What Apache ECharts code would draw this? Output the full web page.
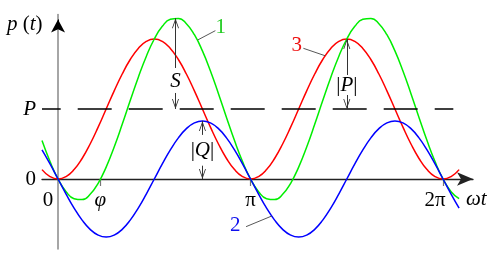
<!DOCTYPE html>
<html><head><meta charset="utf-8">
<script src="https://cdn.jsdelivr.net/npm/echarts@6/dist/echarts.min.js"></script>
<style>html,body{margin:0;padding:0;background:#fff}#c{width:500px;height:259px}</style>
</head><body><div id="c"></div>
<script>
// ωt in degrees (π = 180)
const xDeg = [-15, -7.5, 0, 7.5, 15, 22.5, 30, 37.5, 45, 52.5, 60, 67.5, 75, 82.5, 90, 97.5, 105, 112.5, 120, 127.5, 135, 142.5, 150, 157.5, 165, 172.5, 180, 187.5, 195, 202.5, 210, 217.5, 225, 232.5, 240, 247.5, 255, 262.5, 270, 277.5, 285, 292.5, 300, 307.5, 315, 322.5, 330, 337.5, 345, 352.5, 360, 367.5, 375];
// curve 1 (green), in units of P
const curve1 = [0.549, 0.249,
  0, -0.181, -0.281, -0.294, -0.219, -0.061, 0.17, 0.457, 0.781, 1.12, 1.451, 1.751, 2, 2.181, 2.281, 2.294, 2.219, 2.061, 1.83, 1.543, 1.219, 0.88, 0.549, 0.249,
  0, -0.181, -0.281, -0.294, -0.219, -0.061, 0.17, 0.457, 0.781, 1.12, 1.451, 1.751, 2, 2.181, 2.281, 2.294, 2.219, 2.061, 1.83, 1.543, 1.219, 0.88, 0.549, 0.249,
  0, -0.181, -0.281];
// curve 2 (blue)
const curve2 = [0.415, 0.215,
  0, -0.215, -0.415, -0.587, -0.719, -0.802, -0.83, -0.802, -0.719, -0.587, -0.415, -0.215, 0, 0.215, 0.415, 0.587, 0.719, 0.802, 0.83, 0.802, 0.719, 0.587, 0.415, 0.215,
  0, -0.215, -0.415, -0.587, -0.719, -0.802, -0.83, -0.802, -0.719, -0.587, -0.415, -0.215, 0, 0.215, 0.415, 0.587, 0.719, 0.802, 0.83, 0.802, 0.719, 0.587, 0.415, 0.215,
  0, -0.215, -0.415];
// curve 3 (red)
const curve3 = [0.134, 0.034,
  0, 0.034, 0.134, 0.293, 0.5, 0.741, 1, 1.259, 1.5, 1.707, 1.866, 1.966, 2, 1.966, 1.866, 1.707, 1.5, 1.259, 1, 0.741, 0.5, 0.293, 0.134, 0.034,
  0, 0.034, 0.134, 0.293, 0.5, 0.741, 1, 1.259, 1.5, 1.707, 1.866, 1.966, 2, 1.966, 1.866, 1.707, 1.5, 1.259, 1, 0.741, 0.5, 0.293, 0.134, 0.034,
  0, 0.034, 0.134];
const xTickValues = [0, 39.6, 180, 360];
const xTickLabels = ['0', 'φ', 'π', '2π'];
const yTickValues = [0, 1];
const yTickLabels = ['0', 'P'];
const pLevel = 1;
// amplitude annotations
const ampLabels = ['S', '|Q|', '|P|'];
const ampX = [109.8, 135, 270];
const ampFrom = [1, 0, 1];
const ampTo = [2.298, 0.83, 2];
const curveLabels = ['1', '2', '3'];

const FONT = 'Liberation Serif';
const GREEN = '#00ee00', BLUE = '#0000ff', RED = '#ff0000';
const rich = {
  i: {fontFamily: FONT, fontStyle: 'italic', fontSize: 21, lineHeight: 22, color: '#000'},
  u: {fontFamily: FONT, fontSize: 21, lineHeight: 22, color: '#000'},
  o: {fontFamily: FONT, fontSize: 21, lineHeight: 22, color: '#000', padding: [0, 20, 0, 0]},
  t: {fontFamily: FONT, fontSize: 21, lineHeight: 22, color: '#000', padding: [0, 16, 0, 0]}
};
function pairs(ys) { return xDeg.map((x, i) => [x, ys[i]]); }
const arrowPath = 'path://M0,10 L5,0 L10,10 L8.8,10 L5,2.6 L1.2,10 Z';

// gaps in arrow lines where labels sit, and label positions (data units)
const ampGap = [[1.586, 1.229], [0.63, 0.19], [1.486, 1.2]];
const ampLabelY = [1.39, 0.407, 1.343];
const ampSegments = [];
ampX.forEach((x, k) => {
  ampSegments.push([{coord: [x, ampGap[k][0]]}, {coord: [x, ampTo[k]]}]);
  ampSegments.push([{coord: [x, ampGap[k][1]]}, {coord: [x, ampFrom[k]]}]);
});
const ampRich = ['{i|S}', '{u||}{i|Q}{u||}', '{u||}{i|P}{u||}'];

const leaderSegs = [
  [{coord: [130.6, 1.986]}, {coord: [147.1, 2.119]}],
  [{coord: [199.8, -0.529]}, {coord: [175.8, -0.681]}],
  [{coord: [249.7, 1.761]}, {coord: [229.4, 1.867]}]
];
const leaderLabelPos = [[152.2, 2.16], [165.8, -0.657], [223.2, 1.904]];
const leaderColors = ['#22cc22', '#1010ee', '#ee1010'];

const chart = echarts.init(document.getElementById('c'), null, {renderer: 'canvas'});
chart.setOption({
  animation: false,
  backgroundColor: '#fff',
  grid: {left: 42, right: 27, top: 14.5, bottom: 10, containLabel: false, outerBoundsMode: 'none'},
  xAxis: {
    type: 'value', min: -15, max: 388, position: 'bottom', offset: -70,
    splitLine: {show: false},
    axisLine: {show: true, onZero: false, symbol: ['none', 'arrow'], symbolSize: [10, 16], lineStyle: {color: '#222', width: 1.3}},
    axisTick: {show: true, customValues: xTickValues.slice(1), length: 7, inside: false, lineStyle: {color: '#777', width: 1.2}},
    axisLabel: {
      show: true, customValues: xTickValues, margin: 10,
      formatter: v => {
        const k = xTickValues.indexOf(v);
        const s = xTickLabels[k];
        if (k === 0) return '{o|' + s + '}';
        if (k === 1) return '{i|' + s + '}';
        if (k === 3) return '{t|' + s + '}';
        return '{u|' + s + '}';
      },
      rich: rich
    }
  },
  yAxis: {
    type: 'value', min: -1, max: 2.35, position: 'left', offset: -16,
    splitLine: {show: false},
    axisLine: {show: true, onZero: false, lineStyle: {color: '#888', width: 1.5}},
    axisTick: {show: false},
    axisLabel: {
      show: true, customValues: yTickValues, margin: 22,
      formatter: v => {
        const k = yTickValues.indexOf(v);
        return (k === 1 ? '{i|' : '{u|') + yTickLabels[k] + '}';
      },
      rich: rich
    }
  },
  graphic: [
    {type: 'text', left: 7, top: 14, style: {text: '{i|p}{u| (}{i|t}{u|)}', rich: {i: {fontFamily: FONT, fontStyle: 'italic', fontSize: 21, fill: '#000'}, u: {fontFamily: FONT, fontSize: 21, fill: '#000'}}}},
    {type: 'text', left: 466, top: 189, style: {text: '{i|ωt}', rich: {i: {fontFamily: FONT, fontStyle: 'italic', fontSize: 21, fill: '#000'}}}}
  ],
  series: [
    {type: 'line', name: curveLabels[2], data: pairs(curve3), smooth: true, showSymbol: false, clip: false,
      lineStyle: {color: RED, width: 1.5}, itemStyle: {color: RED}},
    {type: 'line', name: curveLabels[0], data: pairs(curve1), smooth: true, showSymbol: false, clip: false,
      lineStyle: {color: GREEN, width: 1.5}, itemStyle: {color: GREEN}},
    {type: 'line', name: curveLabels[1], data: pairs(curve2), smooth: true, showSymbol: false, clip: false,
      lineStyle: {color: BLUE, width: 1.5}, itemStyle: {color: BLUE}},
    // P dashed level + leaders + curve number labels
    {type: 'line', data: [], clip: false, silent: true,
      markLine: {silent: true, symbol: 'none', label: {show: false}, emphasis: {disabled: true},
        data: [
          [{coord: [-15, pLevel], lineStyle: {color: '#000', width: 1.6, type: [34, 17], dashOffset: 15.3}}, {coord: [369.6, pLevel]}]
        ].concat(leaderSegs.map(s => [Object.assign({lineStyle: {color: '#444', width: 0.9, type: 'solid'}}, s[0]), s[1]]))
      },
      markPoint: {silent: true, symbol: 'circle', symbolSize: 0,
        data: leaderLabelPos.map((p, k) => ({coord: p, label: {show: true, position: 'inside', formatter: curveLabels[k], fontFamily: FONT, fontSize: 21, color: leaderColors[k]}}))
      }
    },
    // amplitude arrows
    {type: 'line', data: [], clip: false, silent: true,
      markLine: {silent: true, symbol: ['none', arrowPath], symbolSize: [7, 10], symbolOffset: [0, [0, 5]],
        label: {show: false}, emphasis: {disabled: true},
        lineStyle: {color: '#333', width: 1, type: 'solid'},
        data: ampSegments
      },
      markPoint: {silent: true, symbol: 'circle', symbolSize: 0,
        data: ampX.map((x, k) => ({coord: [x, ampLabelY[k]], label: {show: true, position: 'inside', formatter: ampRich[k], rich: rich}}))
      }
    },
    // y-axis arrow head
    {type: 'line', data: [], clip: false, silent: true,
      markLine: {silent: true, symbol: ['none', 'arrow'], symbolSize: [10.5, 13], label: {show: false}, emphasis: {disabled: true},
        lineStyle: {color: '#000', width: 1, type: 'solid'},
        data: [[{coord: [0, 2.2]}, {coord: [0, 2.279]}]]
      }
    }
  ]
});
</script></body></html>
